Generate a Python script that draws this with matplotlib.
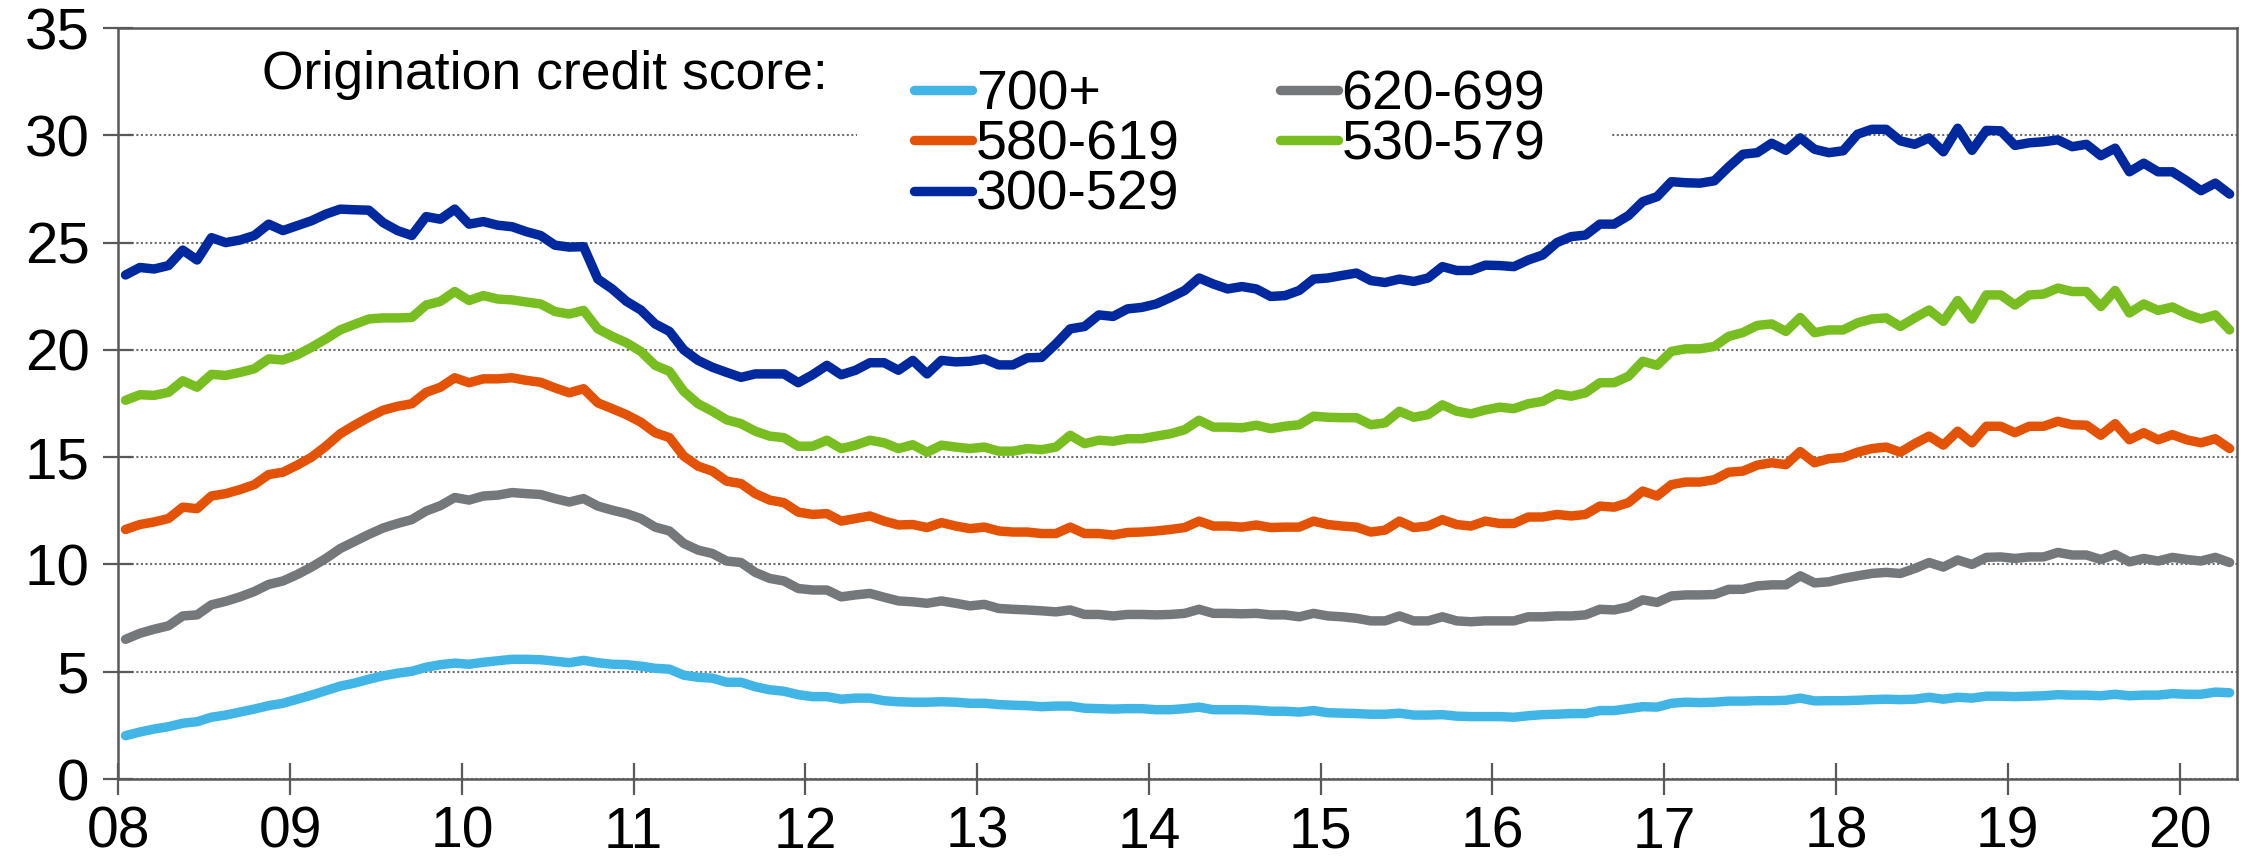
import numpy as np
import matplotlib.pyplot as plt
from matplotlib.patches import Rectangle

plt.rcParams['font.family'] = ['Liberation Sans', 'DejaVu Sans']

# Share of new loans by origination credit score (%), monthly Jan 2008 - Apr 2020
s_700 = [2.02, 2.19, 2.33, 2.44, 2.60, 2.67, 2.88, 2.98, 3.12, 3.26, 3.42, 3.53,
         3.72, 3.91, 4.12, 4.33, 4.47, 4.65, 4.81, 4.93, 5.02, 5.21, 5.33, 5.40,
         5.35, 5.44, 5.51, 5.58, 5.58, 5.56, 5.49, 5.42, 5.53, 5.42, 5.35, 5.33,
         5.26, 5.16, 5.12, 4.84, 4.74, 4.70, 4.51, 4.51, 4.30, 4.16, 4.09, 3.93,
         3.84, 3.84, 3.72, 3.77, 3.77, 3.65, 3.60, 3.58, 3.58, 3.60, 3.58, 3.53,
         3.53, 3.47, 3.44, 3.42, 3.37, 3.40, 3.40, 3.30, 3.28, 3.26, 3.28, 3.28,
         3.23, 3.23, 3.28, 3.35, 3.23, 3.23, 3.23, 3.21, 3.16, 3.16, 3.12, 3.19,
         3.09, 3.07, 3.05, 3.02, 3.02, 3.07, 2.98, 2.98, 3.00, 2.93, 2.91, 2.91,
         2.91, 2.88, 2.95, 3.00, 3.02, 3.05, 3.05, 3.19, 3.19, 3.28, 3.37, 3.35,
         3.53, 3.58, 3.56, 3.58, 3.63, 3.63, 3.65, 3.65, 3.67, 3.77, 3.64, 3.65,
         3.65, 3.67, 3.70, 3.72, 3.70, 3.72, 3.81, 3.72, 3.81, 3.77, 3.86, 3.86,
         3.84, 3.86, 3.88, 3.93, 3.91, 3.91, 3.88, 3.95, 3.88, 3.91, 3.91, 3.98,
         3.95, 3.95, 4.05, 4.02]

s_620 = [6.51, 6.79, 6.98, 7.14, 7.60, 7.65, 8.12, 8.28, 8.49, 8.74, 9.07, 9.23,
         9.53, 9.88, 10.28, 10.74, 11.07, 11.40, 11.70, 11.91, 12.09, 12.49, 12.74, 13.12,
         13.00, 13.19, 13.23, 13.35, 13.30, 13.26, 13.07, 12.91, 13.07, 12.72, 12.53, 12.37,
         12.14, 11.74, 11.56, 10.98, 10.67, 10.51, 10.16, 10.09, 9.63, 9.35, 9.23, 8.88,
         8.81, 8.81, 8.49, 8.58, 8.65, 8.47, 8.30, 8.26, 8.19, 8.30, 8.19, 8.07,
         8.14, 7.95, 7.91, 7.88, 7.84, 7.79, 7.88, 7.67, 7.67, 7.60, 7.67, 7.67,
         7.65, 7.67, 7.72, 7.91, 7.72, 7.72, 7.70, 7.72, 7.65, 7.65, 7.56, 7.72,
         7.60, 7.56, 7.49, 7.37, 7.37, 7.60, 7.37, 7.37, 7.56, 7.37, 7.33, 7.37,
         7.37, 7.37, 7.56, 7.56, 7.60, 7.60, 7.65, 7.91, 7.88, 8.02, 8.35, 8.23,
         8.53, 8.58, 8.58, 8.60, 8.84, 8.84, 9.00, 9.05, 9.05, 9.47, 9.14, 9.19,
         9.35, 9.47, 9.58, 9.63, 9.58, 9.81, 10.09, 9.88, 10.21, 10.00, 10.33, 10.35,
         10.28, 10.35, 10.35, 10.56, 10.44, 10.44, 10.23, 10.47, 10.12, 10.28, 10.16, 10.33,
         10.23, 10.16, 10.33, 10.09]

s_580 = [11.63, 11.86, 11.98, 12.14, 12.67, 12.60, 13.19, 13.30, 13.49, 13.72, 14.19, 14.30,
         14.63, 15.00, 15.51, 16.09, 16.49, 16.86, 17.19, 17.37, 17.49, 18.02, 18.26, 18.70,
         18.47, 18.65, 18.65, 18.70, 18.58, 18.49, 18.23, 18.00, 18.19, 17.53, 17.26, 16.98,
         16.63, 16.14, 15.91, 15.05, 14.58, 14.35, 13.88, 13.77, 13.30, 13.00, 12.88, 12.44,
         12.33, 12.37, 12.02, 12.14, 12.26, 12.02, 11.84, 11.86, 11.72, 11.95, 11.79, 11.67,
         11.74, 11.56, 11.51, 11.51, 11.44, 11.44, 11.74, 11.44, 11.44, 11.37, 11.49, 11.51,
         11.56, 11.63, 11.72, 12.02, 11.79, 11.79, 11.74, 11.84, 11.72, 11.74, 11.74, 12.02,
         11.86, 11.79, 11.74, 11.51, 11.60, 12.02, 11.72, 11.79, 12.09, 11.86, 11.79, 12.02,
         11.91, 11.91, 12.21, 12.21, 12.33, 12.26, 12.33, 12.72, 12.67, 12.88, 13.42, 13.19,
         13.72, 13.84, 13.84, 13.95, 14.30, 14.35, 14.63, 14.74, 14.65, 15.26, 14.74, 14.93,
         14.98, 15.23, 15.40, 15.47, 15.23, 15.63, 15.98, 15.56, 16.21, 15.67, 16.44, 16.44,
         16.14, 16.44, 16.44, 16.67, 16.51, 16.49, 16.02, 16.56, 15.81, 16.14, 15.81, 16.05,
         15.81, 15.67, 15.86, 15.40]

s_530 = [17.65, 17.91, 17.88, 18.02, 18.56, 18.26, 18.86, 18.81, 18.95, 19.12, 19.58, 19.53,
         19.77, 20.12, 20.51, 20.93, 21.19, 21.44, 21.49, 21.49, 21.51, 22.09, 22.26, 22.72,
         22.30, 22.53, 22.37, 22.33, 22.23, 22.14, 21.79, 21.67, 21.84, 20.98, 20.63, 20.33,
         19.93, 19.28, 19.00, 18.07, 17.49, 17.14, 16.74, 16.56, 16.21, 15.98, 15.91, 15.51,
         15.51, 15.79, 15.40, 15.56, 15.79, 15.67, 15.40, 15.58, 15.23, 15.56, 15.47, 15.40,
         15.47, 15.28, 15.28, 15.40, 15.35, 15.47, 16.02, 15.63, 15.79, 15.74, 15.86, 15.86,
         15.98, 16.09, 16.28, 16.72, 16.40, 16.40, 16.37, 16.49, 16.33, 16.44, 16.51, 16.91,
         16.86, 16.84, 16.84, 16.51, 16.60, 17.14, 16.86, 16.98, 17.44, 17.14, 17.02, 17.20,
         17.33, 17.26, 17.49, 17.60, 17.95, 17.84, 18.00, 18.47, 18.47, 18.77, 19.47, 19.28,
         19.93, 20.05, 20.05, 20.16, 20.63, 20.81, 21.14, 21.21, 20.86, 21.51, 20.80, 20.93,
         20.93, 21.26, 21.44, 21.49, 21.09, 21.49, 21.86, 21.33, 22.30, 21.44, 22.56, 22.56,
         22.09, 22.56, 22.60, 22.88, 22.72, 22.72, 22.02, 22.77, 21.72, 22.14, 21.84, 22.00,
         21.67, 21.44, 21.63, 20.93]

s_300 = [23.49, 23.84, 23.77, 23.93, 24.65, 24.19, 25.23, 25.00, 25.12, 25.33, 25.86, 25.56,
         25.79, 26.02, 26.33, 26.56, 26.53, 26.51, 25.93, 25.56, 25.33, 26.21, 26.09, 26.56,
         25.86, 25.98, 25.81, 25.74, 25.51, 25.33, 24.88, 24.79, 24.81, 23.30, 22.84, 22.26,
         21.86, 21.21, 20.86, 20.00, 19.51, 19.19, 18.95, 18.72, 18.88, 18.88, 18.88, 18.47,
         18.84, 19.28, 18.84, 19.05, 19.40, 19.40, 19.05, 19.51, 18.88, 19.51, 19.44, 19.47,
         19.58, 19.30, 19.30, 19.63, 19.65, 20.28, 20.98, 21.09, 21.63, 21.56, 21.91, 21.98,
         22.14, 22.44, 22.77, 23.35, 23.07, 22.84, 22.95, 22.84, 22.49, 22.53, 22.77, 23.30,
         23.35, 23.47, 23.58, 23.23, 23.14, 23.30, 23.19, 23.35, 23.88, 23.70, 23.70, 23.95,
         23.93, 23.88, 24.19, 24.42, 25.00, 25.28, 25.35, 25.86, 25.86, 26.26, 26.91, 27.14,
         27.84, 27.79, 27.77, 27.88, 28.53, 29.12, 29.19, 29.63, 29.30, 29.88, 29.35, 29.19,
         29.28, 30.05, 30.28, 30.28, 29.74, 29.58, 29.88, 29.23, 30.33, 29.30, 30.23, 30.21,
         29.53, 29.65, 29.70, 29.79, 29.47, 29.58, 29.05, 29.40, 28.30, 28.70, 28.30, 28.30,
         27.88, 27.42, 27.77, 27.26]

etiquetas = ['700+', '620-699', '580-619', '530-579', '300-529']
colores = ['#41B6E6', '#75787B', '#E35205', '#78BE20', '#00299F']
series = [s_700, s_620, s_580, s_530, s_300]

anios = list(range(2008, 2021))
etiquetas_x = [str(a)[2:] for a in anios]

meses = np.arange(len(s_700))
x = 2008 + (meses + 0.5) / 12

fig = plt.figure(figsize=(22.46, 8.65), dpi=100)
ax = fig.add_axes([0.0527, 0.0994, 0.9432, 0.8682])

lineas = {}
for serie, lab, col in zip(series, etiquetas, colores):
    l, = ax.plot(x, serie, color=col, lw=6.8, solid_capstyle='round',
                 solid_joinstyle='round', label=lab, zorder=3)
    lineas[lab] = l

ax.set_xlim(2008, 2008 + len(s_700) / 12)
ax.set_ylim(0, 35)
ax.set_yticks(range(0, 36, 5))
ax.set_xticks(anios)
ax.set_xticklabels(etiquetas_x)

ax.yaxis.grid(True, linestyle=(0, (1, 1.2)), color='#6f6f6f', lw=1.5)
ax.set_axisbelow(True)

for s in ax.spines.values():
    s.set_color('#595959')
    s.set_linewidth(1.8)

ax.tick_params(axis='y', direction='inout', length=21.5, width=1.6,
               color='#595959', labelsize=42, pad=10)
ax.tick_params(axis='x', direction='inout', length=22.7, width=1.6,
               color='#595959', labelsize=41, pad=8)

# tapa la linea de 30 detras de la leyenda
ax.add_patch(Rectangle((0.3487, 0.74), 0.3564, 0.235, transform=ax.transAxes,
                       facecolor='white', edgecolor='none', zorder=1.8))

ax.text(0.0678, 0.9188, 'Origination credit score:', transform=ax.transAxes,
        fontsize=38.5, va='baseline', ha='left')

orden = ['700+', '580-619', '300-529', '620-699', '530-579']
ax.legend([lineas[k] for k in orden], orden, loc='upper left',
          bbox_to_anchor=(0.3756, 0.945), ncol=2, frameon=False, fontsize=40,
          handlelength=1.05, handletextpad=0.06, columnspacing=1.8,
          labelspacing=-0.03, borderpad=0, borderaxespad=0)

plt.savefig('out.png', dpi=100)
